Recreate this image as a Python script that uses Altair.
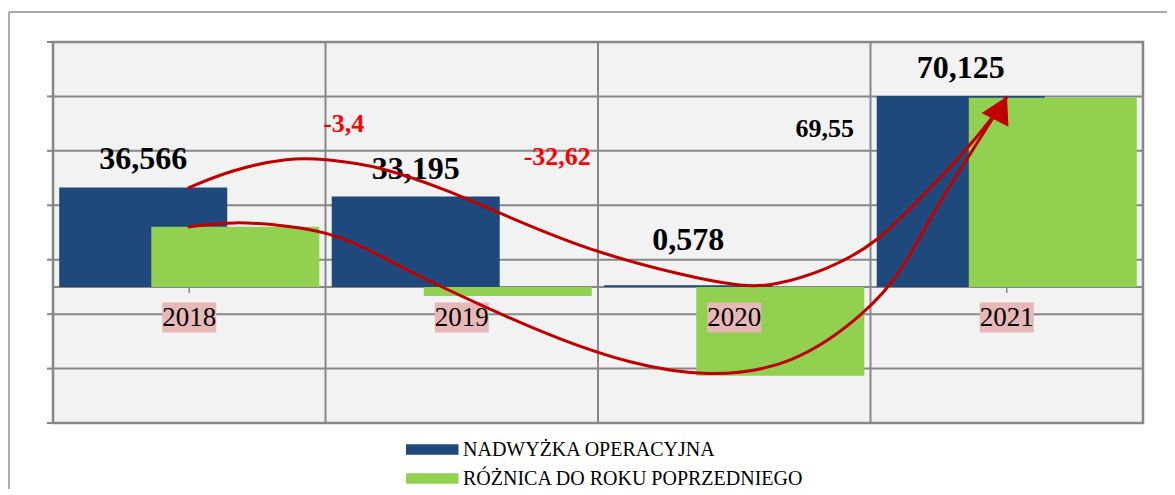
import altair as alt
import pandas as pd

# ---------------- data ----------------
years = ["2018", "2019", "2020", "2021"]
surplus = [36.566, 33.195, 0.578, 70.125]
change = [22.1, -3.371, -32.617, 69.547]
surplus_labels = ["36,566", "33,195", "0,578", "70,125"]
change_labels = ["", "-3,4", "-32,62", "69,55"]
series = ["NADWYŻKA OPERACYJNA", "RÓŻNICA DO ROKU POPRZEDNIEGO"]
y_ticks = [-50, -30, -10, 10, 30, 50, 70, 90]

# hand-drawn arrows (x in category units: category i spans [i, i+1]; y in chart units)
curve1_x = [0.495, 0.650, 0.870, 1.002, 1.200, 1.446, 1.640, 1.813, 2.004, 2.301,
            2.532, 2.640, 2.840, 3.024, 3.207, 3.328, 3.450, 3.501]
curve1_y = [36.3, 42.9, 47.7, 46.9, 44.4, 35.6, 27.1, 19.8, 12.5, 4.4,
            0.0, 0.3, 6.2, 16.0, 35.0, 47.7, 62.3, 70.0]
curve2_x = [0.495, 0.661, 0.870, 1.002, 1.152, 1.273, 1.604, 1.861, 2.106, 2.400,
            2.716, 2.987, 3.119, 3.207, 3.328, 3.450, 3.501]
curve2_y = [22.0, 24.2, 22.4, 20.2, 14.3, 7.3, -8.4, -19.4, -27.9, -33.4,
            -29.3, -9.5, 6.2, 23.5, 42.9, 62.3, 70.0]

# ---------------- styles ----------------
BLUE = "#1f497d"
GREEN = "#92d050"
GRID = "#878787"
BG = "#f2f2f2"
PINK = "#e6b8b7"
RED = "#c00000"
SERIF = "Liberation Serif"
RECT = "M-1,-0.556L1,-0.556L1,0.556L-1,0.556Z"
ARROW = "M0,0L0.57,1L-0.57,1Z"
LEG_SYM = "M-2.5,-0.5L2.5,-0.5L2.5,0.5L-2.5,0.5Z"
LABEL_Y = -11.25

bars_df = pd.DataFrame(
    [{"year": y, "series": series[0], "value": v} for y, v in zip(years, surplus)]
    + [{"year": y, "series": series[1], "value": v} for y, v in zip(years, change)]
)
yr_df = pd.DataFrame({"year": years, "surplus": surplus, "change": change,
                      "slab": surplus_labels, "clab": change_labels})
tick_df = pd.DataFrame({"t": y_ticks})
curve_df = pd.DataFrame(
    [{"curve": "a", "idx": i, "cx": x, "cy": y} for i, (x, y) in enumerate(zip(curve1_x, curve1_y))]
    + [{"curve": "b", "idx": i, "cx": x, "cy": y} for i, (x, y) in enumerate(zip(curve2_x, curve2_y))]
)
arrow_df = pd.DataFrame({"cx": [curve1_x[-1]], "cy": [curve1_y[-1]]})

Y_SCALE = alt.Scale(domain=[-50, 90], nice=False, zero=False)
X_SCALE = alt.Scale(domain=years, paddingInner=0, paddingOuter=0)


def xq():
    return alt.X("year:N", scale=X_SCALE, axis=None)


def ydat(v):
    return alt.YDatum(v, type="quantitative", scale=Y_SCALE, axis=None)


one = pd.DataFrame({"a": [0]})

frame_top = alt.Chart(one).mark_rule(color="#8c8c8c", strokeWidth=1.4).encode(
    x=alt.value(-44), x2=alt.value(1114), y=alt.value(-30))
frame_left = alt.Chart(one).mark_rule(color="#8c8c8c", strokeWidth=1.4).encode(
    x=alt.value(-44), y=alt.value(-30), y2=alt.value(450))

h_grid = alt.Chart(tick_df).mark_rule(color=GRID, strokeWidth=2).encode(
    y=alt.Y("t:Q", scale=Y_SCALE, axis=None))
y_tickmarks = alt.Chart(tick_df).mark_rule(color=GRID, strokeWidth=2).encode(
    y=alt.Y("t:Q", scale=Y_SCALE, axis=None), x=alt.value(-6), x2=alt.value(0))
v_grid = alt.Chart(yr_df).mark_rule(color=GRID, strokeWidth=2).encode(
    x=alt.X("year:N", scale=X_SCALE, axis=None, bandPosition=0))

zero_line = alt.Chart(pd.DataFrame({"v": [0]})).mark_rule(color=GRID, strokeWidth=2).encode(
    y=alt.Y("v:Q", scale=Y_SCALE, axis=None))

center_ticks = alt.Chart(yr_df).mark_rule(color=GRID, strokeWidth=1.5).encode(
    x=xq(), y=ydat(0), y2=alt.Y2Datum(-2.2))

bars = alt.Chart(bars_df).mark_bar(width=168).encode(
    x=xq(),
    xOffset=alt.XOffset("series:N", sort=series,
                        scale=alt.Scale(domain=series, paddingOuter=0.48, paddingInner=0)),
    y=alt.Y("value:Q", scale=Y_SCALE, axis=None),
    color=alt.Color("series:N", sort=series, scale=alt.Scale(domain=series, range=[BLUE, GREEN]),
                    legend=alt.Legend(orient="none", legendX=368.75, legendY=397,
                                      direction="vertical", title=None,
                                      symbolType=LEG_SYM, symbolSize=441, symbolStrokeWidth=0,
                                      symbolOpacity=1,
                                      labelFont=SERIF, labelFontSize=20, labelColor="black",
                                      labelOffset=20.25, rowPadding=8, padding=0,
                                      labelLimit=600)),
)

blue_lab = alt.Chart(yr_df).transform_filter(alt.datum.year != "2020").mark_text(
    font=SERIF, fontSize=32, fontWeight="bold", color="black", baseline="alphabetic",
    dx=-46, dy=-18).encode(x=xq(), y=alt.Y("surplus:Q", scale=Y_SCALE, axis=None), text="slab:N")
blue_lab20 = alt.Chart(yr_df).transform_filter(alt.datum.year == "2020").mark_text(
    font=SERIF, fontSize=32, fontWeight="bold", color="black", baseline="alphabetic",
    dx=-46, dy=-35).encode(x=xq(), y=alt.Y("surplus:Q", scale=Y_SCALE, axis=None), text="slab:N")

label_bg = alt.Chart(yr_df).mark_point(shape=RECT, size=2916, filled=True, color=PINK,
                                       opacity=1, strokeWidth=0).encode(x=xq(), y=ydat(LABEL_Y))
label_txt = alt.Chart(yr_df).mark_text(font=SERIF, fontSize=27, color="black",
                                       baseline="middle").encode(x=xq(), y=ydat(LABEL_Y), text="year:N")


def change_label(year, color, dx, dy):
    return alt.Chart(yr_df).transform_filter(alt.datum.year == year).mark_text(
        font=SERIF, fontSize=26, fontWeight="bold", color=color, baseline="alphabetic",
        dx=dx, dy=dy).encode(x=xq(), y=alt.Y("change:Q", scale=Y_SCALE, axis=None), text="clab:N")


g19 = change_label("2019", "#ff0000", -118, -164)
g20 = change_label("2020", "#ff0000", -177, -211)
g21 = change_label("2021", "black", -182, 39)

main = alt.layer(frame_top, frame_left, h_grid, v_grid, y_tickmarks, zero_line, center_ticks,
                 bars, blue_lab, blue_lab20, label_bg, label_txt, g19, g20, g21)

CX = alt.X("cx:Q", scale=alt.Scale(domain=[0, 4], nice=False, zero=False), axis=None)
curves = alt.Chart(curve_df).mark_line(color=RED, strokeWidth=3, interpolate="basis").encode(
    x=CX, y=alt.Y("cy:Q", scale=Y_SCALE, axis=None), detail="curve:N", order="idx:Q")
arrow = alt.Chart(arrow_df).mark_point(shape=ARROW, size=2788, angle=27, filled=True, color=RED,
                                       opacity=1, strokeWidth=0).encode(
    x=CX, y=alt.Y("cy:Q", scale=Y_SCALE, axis=None))

chart = alt.layer(main, alt.layer(curves, arrow)).resolve_scale(x="independent").properties(
    width=1090, height=381,
    padding={"left": 45, "top": 34, "right": 24, "bottom": 66},
    autosize=alt.AutoSizeParams(type="none"),
).configure_view(fill=BG, stroke=GRID, strokeWidth=2.5)

chart.save("out.html", embed_options={"renderer": "svg", "actions": False})
